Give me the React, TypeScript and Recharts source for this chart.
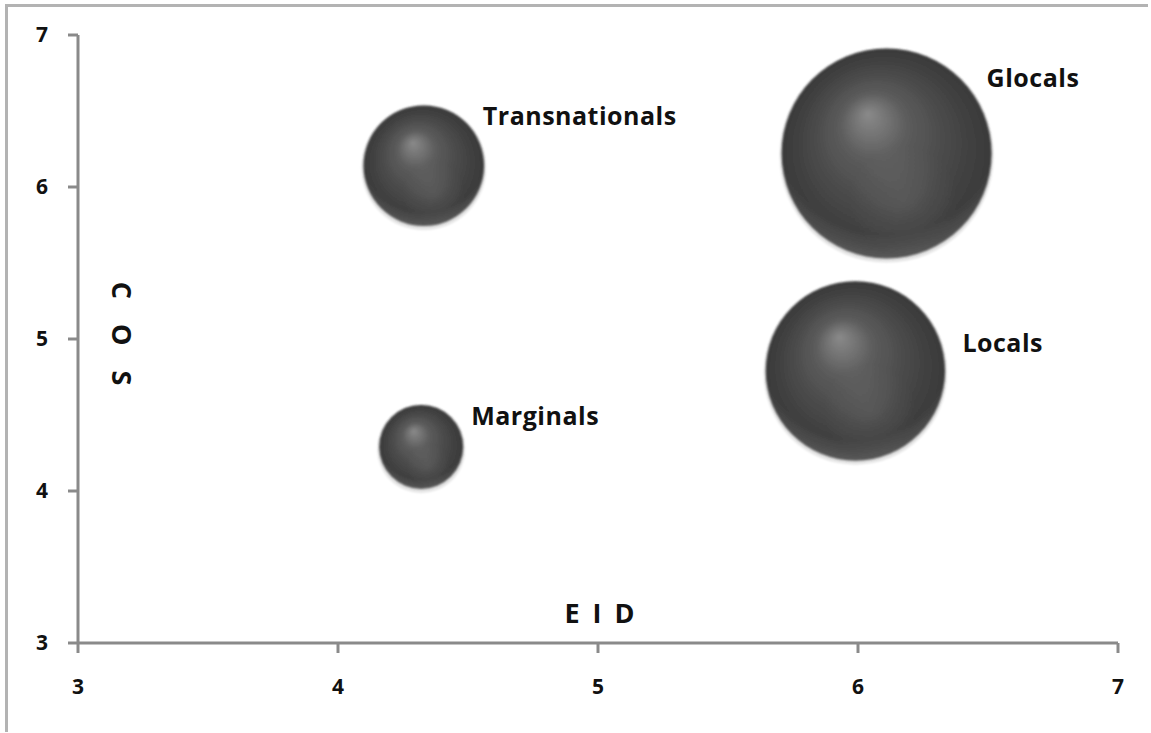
import { ScatterChart, Scatter, XAxis, YAxis, ZAxis } from 'recharts'

// #region Data
const groups = ['Transnationals', 'Glocals', 'Locals', 'Marginals']
const eidValues = [4.33, 6.11, 5.99, 4.32]
const cosValues = [6.14, 6.22, 4.79, 4.29]
const sizeValues = [33, 100, 73, 16]
const axisTicks = [3, 4, 5, 6, 7]

const data = groups.map((name, i) => ({
  name,
  x: eidValues[i],
  y: cosValues[i],
  z: sizeValues[i],
}))
// #endregion

// where each bubble's caption sits, relative to the bubble centre (text start, baseline)
const labelOffsets: Record<string, [number, number]> = {
  Transnationals: [59, -41],
  Glocals: [100, -67],
  Locals: [107, -19],
  Marginals: [50, -22],
}

const FONT = '"Open Sans", Lato, sans-serif'

const Sphere = (props: any) => {
  const { cx, cy, width, payload } = props
  const r = width / 2
  const id = payload.name
  const [dx, dy] = labelOffsets[id] ?? [r, 0]
  return (
    <g>
      <defs>
        <radialGradient id={`base-${id}`} cx="50%" cy="50%" r="50%" fx="41%" fy="31%">
          <stop offset="0%" stopColor="#8a8a8a" />
          <stop offset="32%" stopColor="#5c5c5c" />
          <stop offset="70%" stopColor="#464646" />
          <stop offset="100%" stopColor="#393939" />
        </radialGradient>
        <radialGradient id={`rim-${id}`} cx="50%" cy="36%" r="64%">
          <stop offset="82%" stopColor="#ffffff" stopOpacity={0} />
          <stop offset="100%" stopColor="#ffffff" stopOpacity={0.16} />
        </radialGradient>
        <radialGradient id={`glow-${id}`} cx="58%" cy="72%" r="26%">
          <stop offset="0%" stopColor="#ffffff" stopOpacity={0.08} />
          <stop offset="100%" stopColor="#ffffff" stopOpacity={0} />
        </radialGradient>
        <filter id={`soft-${id}`} x="-10%" y="-10%" width="120%" height="120%">
          <feGaussianBlur stdDeviation="0.9" />
        </filter>
      </defs>
      <circle cx={cx} cy={cy + 2} r={r + 2} fill="#000" opacity={0.1} filter={`url(#soft-${id})`} />
      <g filter={`url(#soft-${id})`}>
        <circle cx={cx} cy={cy} r={r} fill={`url(#base-${id})`} />
        <circle cx={cx} cy={cy} r={r} fill={`url(#rim-${id})`} />
        <circle cx={cx} cy={cy} r={r} fill={`url(#glow-${id})`} />
      </g>
      <text
        x={cx + dx}
        y={cy + dy}
        fill="#111"
        fontFamily={FONT}
        fontWeight={700}
        fontSize={25}
        letterSpacing={0.5}
      >
        {id}
      </text>
    </g>
  )
}

const tickStyle = { fill: '#111', fontSize: 21, fontWeight: 700, fontFamily: FONT }

export default function App() {
  return (
    <div style={{ position: 'absolute', left: 0, top: 0, width: 1151, height: 733, overflow: 'hidden', background: '#fff' }}>
      {/* frame of the original picture, only left and top edges show */}
      <div
        style={{
          position: 'absolute',
          left: 5,
          top: 4,
          width: 1140,
          height: 725,
          borderLeft: '3px solid #b3b3b3',
          borderTop: '3px solid #b3b3b3',
        }}
      />
      <div style={{ position: 'absolute', left: 0, top: 0 }}>
        <ScatterChart width={1151} height={733} margin={{ top: 35, right: 33, bottom: 30, left: 38 }}>
          <XAxis
            type="number"
            dataKey="x"
            domain={[3, 7]}
            ticks={axisTicks}
            height={60}
            stroke="#8a8a8a"
            strokeWidth={3}
            tickSize={10}
            tickMargin={26}
            tick={tickStyle}
            label={(p: any) => {
              const vb = p.viewBox
              return (
                <text
                  x={vb.x + vb.width / 2 + 3}
                  y={vb.y - 20}
                  textAnchor="middle"
                  fill="#111"
                  fontFamily={FONT}
                  fontWeight={700}
                  fontSize={27}
                  letterSpacing={3}
                >
                  E I D
                </text>
              )
            }}
          />
          <YAxis
            type="number"
            dataKey="y"
            domain={[3, 7]}
            ticks={axisTicks}
            width={40}
            stroke="#8a8a8a"
            strokeWidth={3}
            tickSize={10}
            tickMargin={20}
            tick={tickStyle}
            label={(p: any) => {
              const vb = p.viewBox
              const x = vb.x + vb.width + 44
              const y = vb.y + vb.height / 2 - 1
              return (
                <text
                  x={x}
                  y={y}
                  transform={`rotate(90 ${x} ${y})`}
                  textAnchor="middle"
                  dominantBaseline="central"
                  fill="#111"
                  fontFamily={FONT}
                  fontWeight={700}
                  fontSize={27}
                  letterSpacing={9}
                >
                  C O S
                </text>
              )
            }}
          />
          <ZAxis type="number" dataKey="z" domain={[0, 100]} range={[0, Math.PI * 105 * 105]} />
          <Scatter data={data} shape={<Sphere />} isAnimationActive={false} />
        </ScatterChart>
      </div>
    </div>
  )
}
